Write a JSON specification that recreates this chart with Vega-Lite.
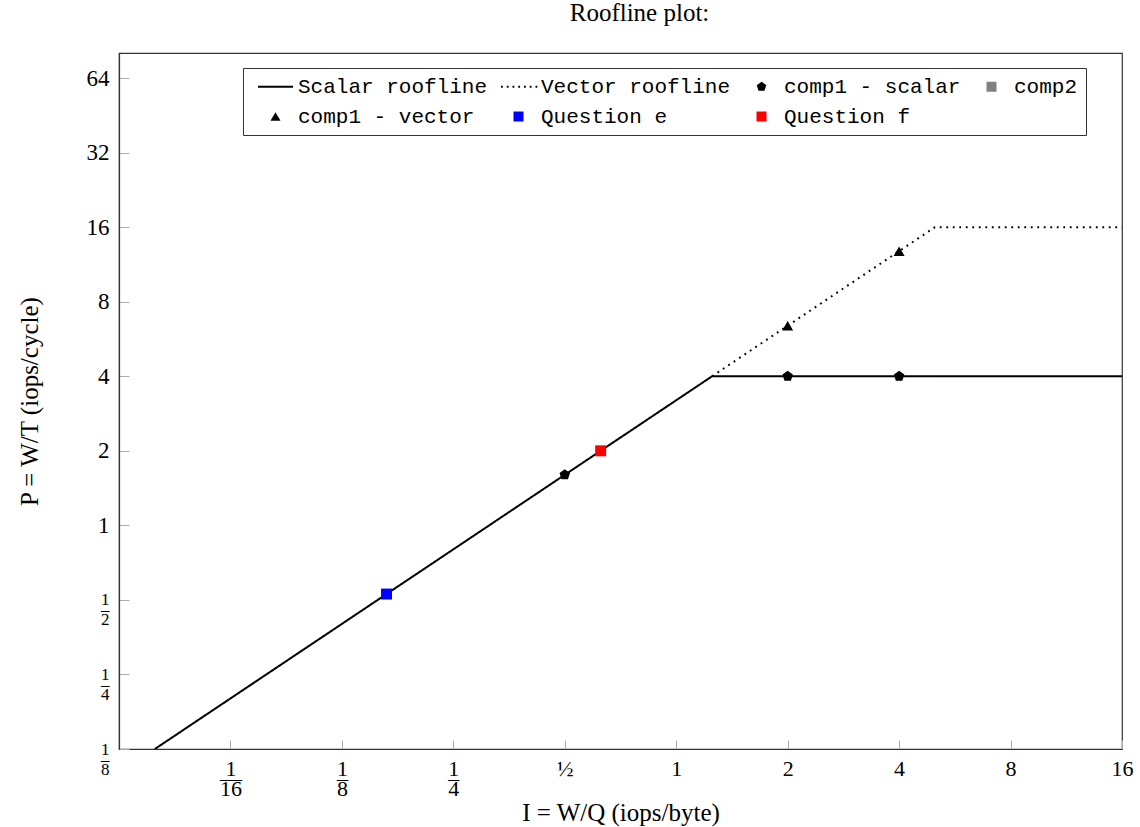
{
  "$schema": "https://vega.github.io/schema/vega-lite/v6.json",
  "autosize": {"type": "none"},
  "width": 1003,
  "height": 696,
  "padding": {"left": 119, "top": 53, "right": 18, "bottom": 78},
  "background": "white",
  "title": {
    "text": "Roofline plot:",
    "font": "Liberation Serif",
    "fontSize": 25,
    "fontWeight": "normal",
    "color": "black",
    "baseline": "alphabetic",
    "offset": 7,
    "dx": 19
  },
  "config": {
    "view": {"stroke": "#333", "strokeWidth": 1.2},
    "axis": {
      "labelFont": "Liberation Serif",
      "titleFont": "Liberation Serif",
      "labelColor": "black",
      "titleColor": "black",
      "titleFontWeight": "normal",
      "titleFontSize": 25,
      "domainColor": "#333",
      "domainWidth": 1.2,
      "tickColor": "#aaa",
      "tickWidth": 1,
      "grid": false,
      "labelFlush": false,
      "labelOverlap": false,
      "labelBound": false
    }
  },
  "datasets": {
    "lines": [
      {"series": "Scalar roofline", "I": 0.0390625, "P": 0.125},
      {"series": "Scalar roofline", "I": 1.25, "P": 4},
      {"series": "Scalar roofline", "I": 16, "P": 4},
      {"series": "Vector roofline", "I": 1.25, "P": 4},
      {"series": "Vector roofline", "I": 5, "P": 16},
      {"series": "Vector roofline", "I": 16, "P": 16}
    ],
    "points": [
      {"series": "comp1 - scalar", "I": 0.5, "P": 1.6},
      {"series": "comp1 - scalar", "I": 2, "P": 4},
      {"series": "comp1 - scalar", "I": 4, "P": 4},
      {"series": "comp1 - vector", "I": 2, "P": 6.4},
      {"series": "comp1 - vector", "I": 4, "P": 12.8},
      {"series": "Question e", "I": 0.165, "P": 0.528},
      {"series": "Question f", "I": 0.625, "P": 2}
    ]
  },
  "encoding": {
    "x": {
      "field": "I",
      "type": "quantitative",
      "scale": {"type": "log", "base": 2, "domain": [0.03125, 16], "nice": false},
      "axis": {
        "title": "I  =  W/Q  (iops/byte)",
        "values": [0.0625, 0.125, 0.25, 0.5, 1, 2, 4, 8, 16],
        "labelExpr": "datum.value >= 1 ? format(datum.value, 'd') : datum.value == 0.5 ? '½' : ['1', datum.value < 0.1 ? '—' : '–', format(1 / datum.value, 'd')]",
        "labelFontSize": 22,
        "labelLineHeight": 10,
        "tickSize": -9,
        "labelPadding": 18,
        "titlePadding": 1
      }
    },
    "y": {
      "field": "P",
      "type": "quantitative",
      "scale": {"type": "log", "base": 2, "domain": [0.125, 80.8], "nice": false},
      "axis": {
        "title": "P  =  W/T  (iops/cycle)",
        "values": [0.125, 0.25, 0.5, 1, 2, 4, 8, 16, 32, 64],
        "labelExpr": "datum.value >= 1 ? format(datum.value, 'd') : ['1', '–', format(1 / datum.value, 'd')]",
        "labelFontSize": {"condition": {"test": "datum.value < 1", "value": 17}, "value": 23},
        "labelLineHeight": 10,
        "tickSize": -10,
        "labelPadding": 20,
        "titlePadding": 44
      }
    }
  },
  "layer": [
    {
      "data": {"name": "lines"},
      "mark": {"type": "line", "color": "black", "strokeWidth": 2, "clip": true},
      "encoding": {
        "strokeDash": {
          "field": "series",
          "type": "nominal",
          "scale": {"domain": ["Scalar roofline", "Vector roofline"], "range": [[1, 0], [1.8, 4.7]]},
          "legend": null
        }
      }
    },
    {
      "data": {"name": "points"},
      "mark": {"type": "point", "filled": true, "opacity": 1, "size": 120, "strokeWidth": 0},
      "encoding": {
        "color": {
          "field": "series",
          "type": "nominal",
          "scale": {
            "domain": ["Scalar roofline", "Vector roofline", "comp1 - scalar", "comp2", "comp1 - vector", "Question e", "Question f"],
            "range": ["black", "black", "black", "#808080", "black", "#0000ff", "#ff0000"]
          },
          "legend": {
            "title": null,
            "orient": "none",
            "legendX": 124,
            "legendY": 15,
            "direction": "horizontal",
            "columns": 4,
            "gridAlign": "each",
            "columnPadding": 6,
            "rowPadding": 8,
            "padding": 8,
            "strokeColor": "#333",
            "fillColor": "white",
            "symbolSize": 100,
            "symbolOffset": 14,
            "symbolStrokeWidth": 0,
            "labelOffset": 12,
            "labelFont": "Liberation Mono",
            "labelFontSize": 21,
            "labelColor": "black",
            "labelLimit": 0
          }
        },
        "shape": {
          "field": "series",
          "type": "nominal",
          "scale": {
            "domain": ["Scalar roofline", "Vector roofline", "comp1 - scalar", "comp2", "comp1 - vector", "Question e", "Question f"],
            "range": [
              "M-3.5,-0.2H3.5V0.2H-3.5Z",
              "M-3.5,-0.18h0.36v0.36h-0.36Z M-2.35,-0.18h0.36v0.36h-0.36Z M-1.2,-0.18h0.36v0.36h-0.36Z M-0.05,-0.18h0.36v0.36h-0.36Z M1.1,-0.18h0.36v0.36h-0.36Z M2.25,-0.18h0.36v0.36h-0.36Z M3.4,-0.18h0.36v0.36h-0.36Z",
              "M0,-1L0.951,-0.309L0.588,0.809L-0.588,0.809L-0.951,-0.309Z",
              "square",
              "triangle-up",
              "square",
              "square"
            ]
          },
          "legend": {
            "title": null,
            "orient": "none",
            "legendX": 124,
            "legendY": 15,
            "direction": "horizontal",
            "columns": 4,
            "gridAlign": "each",
            "columnPadding": 6,
            "rowPadding": 8,
            "padding": 8,
            "strokeColor": "#333",
            "fillColor": "white",
            "symbolSize": 100,
            "symbolOffset": 14,
            "symbolStrokeWidth": 0,
            "labelOffset": 12,
            "labelFont": "Liberation Mono",
            "labelFontSize": 21,
            "labelColor": "black",
            "labelLimit": 0
          }
        }
      }
    }
  ]
}
